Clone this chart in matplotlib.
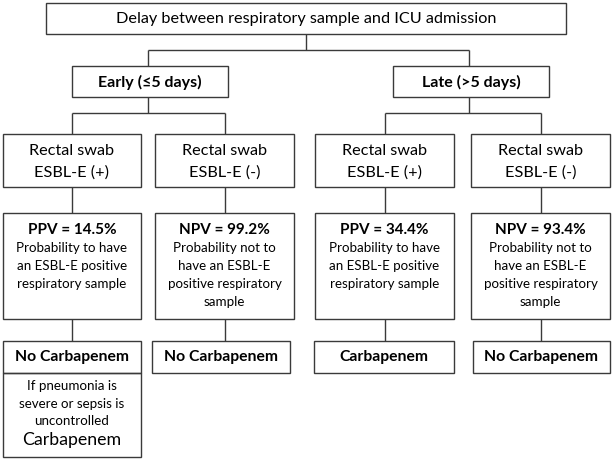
import matplotlib
matplotlib.use('Agg')
import matplotlib.pyplot as plt
from matplotlib.patches import Rectangle

plt.rcParams['font.family'] = ['Lato', 'DejaVu Sans']

# chart content
top_label = 'Delay between respiratory sample and ICU admission'
delay_labels = ['Early (≤5 days)', 'Late (>5 days)']
swab_labels = [['Rectal swab', 'ESBL-E (+)'], ['Rectal swab', 'ESBL-E (-)'],
               ['Rectal swab', 'ESBL-E (+)'], ['Rectal swab', 'ESBL-E (-)']]
value_names = ['PPV', 'NPV', 'PPV', 'NPV']
value_pcts = [14.5, 99.2, 34.4, 93.4]
value_texts = [['Probability to have', 'an ESBL-E positive', 'respiratory sample'],
               ['Probability not to', 'have an ESBL-E', 'positive respiratory', 'sample'],
               ['Probability to have', 'an ESBL-E positive', 'respiratory sample'],
               ['Probability not to', 'have an ESBL-E', 'positive respiratory', 'sample']]
decisions = ['No Carbapenem', 'No Carbapenem', 'Carbapenem', 'No Carbapenem']
note_lines = ['If pneumonia is', 'severe or sepsis is', 'uncontrolled']
note_decision = 'Carbapenem'

# layout (pixels)
col_x = [(3, 141), (155, 294), (315, 454), (471, 610)]
dec_x = [(3, 141), (152, 290), (314, 454), (473, 610)]
delay_x = [(72, 228), (393, 549)]
ec = '#3a3a3a'
lw = 1.0

fig = plt.figure(figsize=(6.14, 4.59), dpi=100)
ax = fig.add_axes([0, 0, 1, 1])
ax.set_xlim(0, 614)
ax.set_ylim(459, 0)
ax.axis('off')


def box(x0, x1, y0, y1):
    ax.add_patch(Rectangle((x0, y0), x1 - x0, y1 - y0, fill=False, ec=ec, lw=lw))


def line(xs, ys):
    ax.plot(xs, ys, color=ec, lw=lw, solid_capstyle='butt')


# top
box(46, 566, 3, 34)
ax.text(306, 19, top_label, ha='center', va='center', fontsize=11.7)
line([306, 306], [34, 50])
line([148, 469], [50, 50])

for i, (x0, x1) in enumerate(delay_x):
    cx = (x0 + x1) / 2 - 2
    line([cx, cx], [50, 66])
    box(x0, x1, 66, 97)
    ax.text((x0 + x1) / 2, 82, delay_labels[i], ha='center', va='center',
            fontsize=11.5, fontweight='bold')
    line([cx, cx], [97, 113])
    a = (col_x[2 * i][0] + col_x[2 * i][1]) / 2
    b = (col_x[2 * i + 1][0] + col_x[2 * i + 1][1]) / 2
    line([a, b], [113, 113])

for j, (x0, x1) in enumerate(col_x):
    cx = (x0 + x1) / 2
    line([cx, cx], [113, 134])
    box(x0, x1, 134, 187)
    for k, s in enumerate(swab_labels[j]):
        ax.text(cx, 151 + k * 22, s, ha='center', va='center', fontsize=11.7)
    line([cx, cx], [187, 213])
    box(x0, x1, 213, 319)
    ax.text(cx, 230, '%s = %.1f%%' % (value_names[j], value_pcts[j]),
            ha='center', va='center', fontsize=11, fontweight='bold')
    for k, s in enumerate(value_texts[j]):
        ax.text(cx, 248 + k * 18, s, ha='center', va='center', fontsize=9.6)
    line([cx, cx], [319, 341])
    d0, d1 = dec_x[j]
    box(d0, d1, 341, 373)
    ax.text((d0 + d1) / 2, 357, decisions[j], ha='center', va='center',
            fontsize=11.3, fontweight='bold')

# extra note under the first column
box(3, 141, 373, 457)
for k, s in enumerate(note_lines):
    ax.text(72, 386 + k * 17.5, s, ha='center', va='center', fontsize=9.6)
ax.text(72, 440, note_decision, ha='center', va='center', fontsize=12.8)

fig.savefig('out.png', dpi=100)
